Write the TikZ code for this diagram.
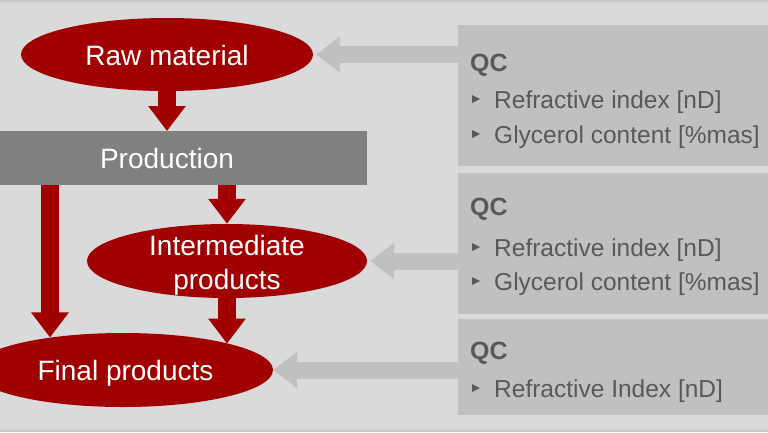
\documentclass[tikz,border=0pt]{standalone}
\usepackage{fontspec}
\setmainfont{Liberation Sans}
\usetikzlibrary{shapes.geometric,arrows.meta}
\definecolor{bg}{HTML}{DADADA}
\definecolor{qcgray}{HTML}{C0C0C0}
\definecolor{prodgray}{HTML}{808080}
\definecolor{darkred}{HTML}{A00000}
\definecolor{txtgray}{HTML}{595959}
\definecolor{edgegray}{HTML}{C8C8C8}
\begin{document}
\begin{tikzpicture}[x=1pt,y=-1pt,
  redell/.style={ellipse, fill=darkred, draw=none, inner sep=0pt},
  bigtxt/.style={text=white, font=\fontsize{28}{33}\selectfont, inner sep=0pt},
  qcbox/.style={rectangle, fill=qcgray, minimum width=310pt, anchor=north west, inner sep=0pt},
  qchead/.style={anchor=base west, text=txtgray, font=\bfseries\fontsize{25}{30}\selectfont, inner sep=0pt},
  qcitem/.style={anchor=base west, text=txtgray, font=\fontsize{24.5}{30}\selectfont, inner sep=0pt},
  redarrow/.style={draw=darkred, line width=18pt, -{Triangle[width=36pt,length=25pt]}},
  grayarrow/.style={draw=qcgray, line width=17pt, -{Triangle[width=35pt,length=24pt]}},
]
\useasboundingbox (0,0) rectangle (768,432);
\fill[bg] (0,0) rectangle (768,432);
\fill[edgegray] (0,0) rectangle (768,1.5);
\fill[edgegray] (0,429.5) rectangle (768,432);

% left flow
\node[redell, minimum width=292pt, minimum height=73pt] (raw) at (167,54.5) {};
\node[bigtxt, anchor=base] (rawt) at (167,65) {Raw material};
\node[rectangle, fill=prodgray, minimum width=367pt, minimum height=54pt, inner sep=0pt, anchor=north west] (prod) at (0,131) {};
\node[bigtxt, anchor=base] (prodt) at (167,168) {Production};
\node[redell, minimum width=280pt, minimum height=74pt] (inter) at (227,261) {};
\node[bigtxt, anchor=base] (intert1) at (227,255) {Intermediate};
\node[bigtxt, anchor=base] (intert2) at (227,289) {products};
\node[redell, minimum width=300pt, minimum height=74pt] (final) at (123,370) {};
\node[bigtxt, anchor=base] (finalt) at (125.5,380) {Final products};

% red arrows
\draw[redarrow] (raw.south) -- (raw.south |- prod.north);
\draw[redarrow] (prod.south -| final.156.7) -- (final.156.7);
\draw[redarrow] (prod.south -| inter.north) -- (inter.north);
\draw[redarrow] (inter.south) -- (inter.south |- final.14.4);

% QC boxes
\node[qcbox, minimum height=141pt] (qc1) at (458,25) {};
\node[qcbox, minimum height=141pt] (qc2) at (458,173) {};
\node[qcbox, minimum height=96pt] (qc3) at (458,319) {};

\node[qchead] (qc1h) at (470,71) {QC};
\fill[txtgray, shift={(472,99)}] (0,-4) -- (8,0) -- (0,4) -- cycle;
\node[qcitem] (qc1a) at (494,108) {Refractive index [nD]};
\fill[txtgray, shift={(472,134)}] (0,-4) -- (8,0) -- (0,4) -- cycle;
\node[qcitem] (qc1b) at (494,143) {Glycerol content [\%mas]};

\node[qchead] (qc2h) at (470,215) {QC};
\fill[txtgray, shift={(472,247)}] (0,-4) -- (8,0) -- (0,4) -- cycle;
\node[qcitem] (qc2a) at (494,256) {Refractive index [nD]};
\fill[txtgray, shift={(472,281)}] (0,-4) -- (8,0) -- (0,4) -- cycle;
\node[qcitem] (qc2b) at (494,290) {Glycerol content [\%mas]};

\node[qchead] (qc3h) at (470,359) {QC};
\fill[txtgray, shift={(472,388)}] (0,-4) -- (8,0) -- (0,4) -- cycle;
\node[qcitem] (qc3a) at (494,397) {Refractive Index [nD]};

% gray arrows
\draw[grayarrow] (qc1.west |- raw.east) -- ([xshift=3pt]raw.east);
\draw[grayarrow] (qc2.west |- inter.east) -- ([xshift=3pt]inter.east);
\draw[grayarrow] (qc3.west |- final.east) -- (final.east);
\end{tikzpicture}
\end{document}
